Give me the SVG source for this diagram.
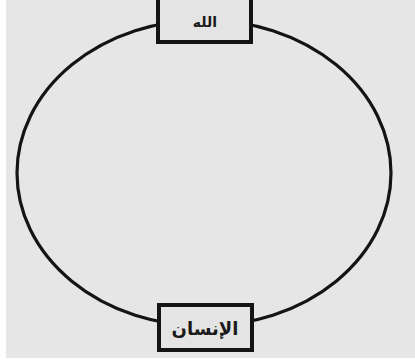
<svg xmlns="http://www.w3.org/2000/svg" width="415" height="362" viewBox="0 0 415 362">
<style>
.box{fill:#e4e4e4;stroke:#141414;stroke-width:4}
.lbl{font-family:"DejaVu Sans",sans-serif;fill:#1a1a1a;text-anchor:middle;font-weight:bold}
</style>
<rect x="0" y="0" width="415" height="362" fill="#ffffff"/>
<rect x="6" y="0" width="409" height="358" fill="#e6e6e6"/>
<g id="connectors">
<ellipse cx="204" cy="173" rx="187" ry="153" fill="none" stroke="#141414" stroke-width="3.2"/>
</g>
<g id="node-allah">
<rect class="box" x="158" y="-4" width="93" height="46"/>
<text class="lbl" x="205" y="27" font-size="14" direction="rtl">الله</text>
</g>
<g id="node-insan">
<rect class="box" x="159" y="305" width="93" height="45"/>
<text class="lbl" x="205" y="335" font-size="18" direction="rtl">الإنسان</text>
</g>
</svg>
